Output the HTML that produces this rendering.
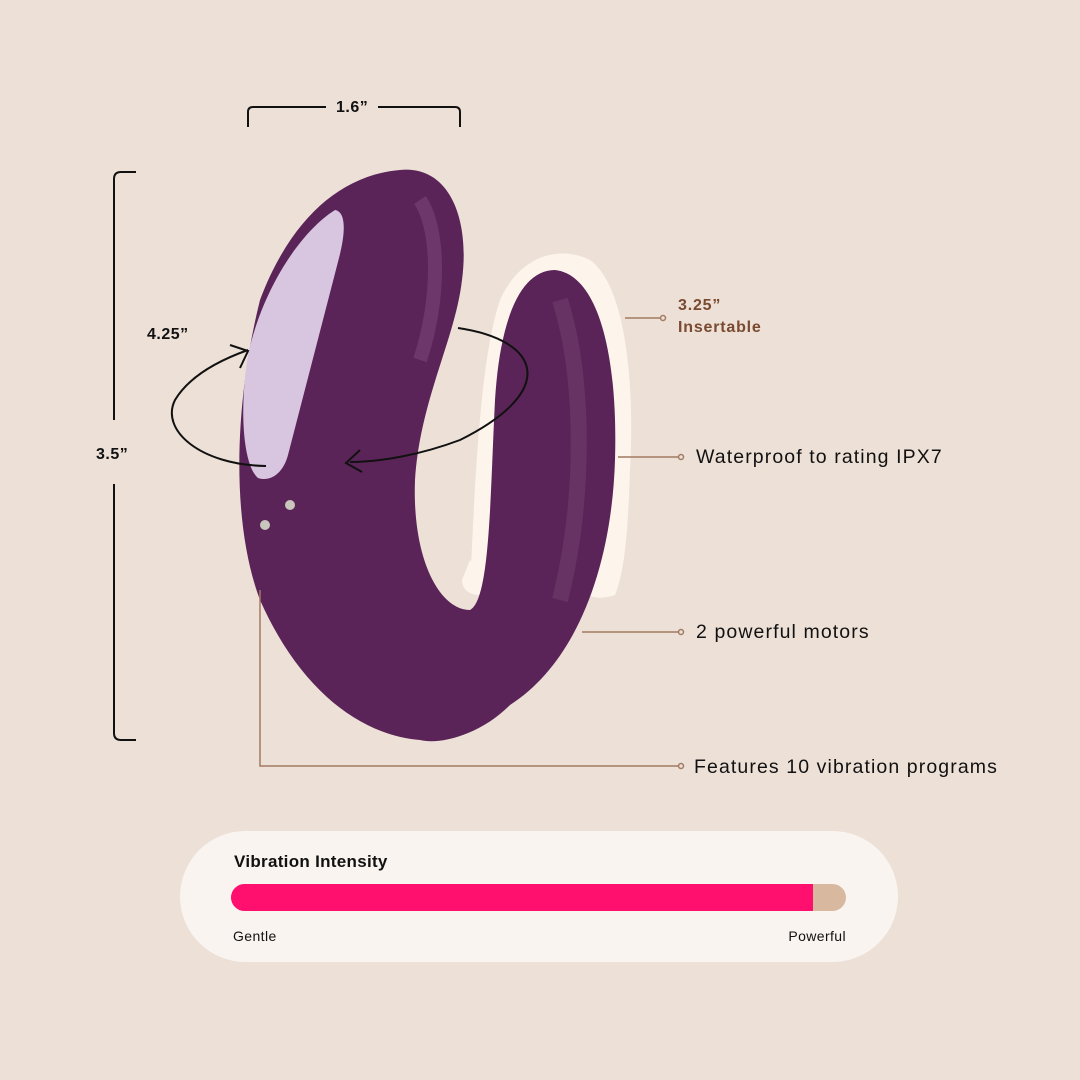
<!DOCTYPE html>
<html><head><meta charset="utf-8"><style>
html,body{margin:0;padding:0;background:#ede0d7;}
svg{display:block}
text{font-family:"Liberation Sans",sans-serif;}
</style></head><body>
<svg width="1080" height="1080" viewBox="0 0 1080 1080" xmlns="http://www.w3.org/2000/svg">
<rect width="1080" height="1080" fill="#ede0d7"/>
<!-- cream halo -->
<path d="M 470 590 C 475 480, 480 360, 500 300 C 520 255, 560 245, 590 260 C 625 285, 635 380, 630 470 C 628 530, 625 570, 615 595 C 600 600, 590 598, 580 590 L 470 590 Z" fill="#fdf5ec"/>
<path d="M 470 560 L 462 580 C 462 590, 470 595, 480 595 L 500 595 Z" fill="#fdf5ec"/>
<!-- device -->
<path d="M 400 170 C 450 165, 470 220, 462 280 C 455 340, 420 400, 415 480 C 412 560, 440 610, 470 610 C 490 600, 490 500, 495 400 C 500 320, 520 270, 555 270 C 600 275, 618 360, 615 460 C 612 560, 580 660, 510 705 C 480 735, 440 745, 420 740 C 360 735, 300 690, 260 600 C 230 520, 235 400, 260 300 C 290 220, 340 175, 400 170 Z" fill="#5a2458"/>
<path d="M 420 200 C 440 230, 440 300, 420 360" stroke="#7a4478" stroke-width="14" fill="none" opacity="0.6"/>
<path d="M 560 300 C 585 380, 585 500, 560 600" stroke="#74406f" stroke-width="16" fill="none" opacity="0.5"/>
<!-- panel -->
<path d="M 335 210 C 347 212, 345 235, 339 258 L 288 455 C 283 474, 270 482, 258 478 C 243 465, 239 410, 248 355 C 262 290, 300 232, 335 210 Z" fill="#d8c5df"/>
<circle cx="290" cy="505" r="5" fill="#c9c6bd"/>
<circle cx="265" cy="525" r="5" fill="#c9c6bd"/>
<!-- rotation arrow -->
<path d="M 458 328 C 540 340, 560 390, 460 440 C 420 455, 380 462, 350 462" stroke="#111" stroke-width="2" fill="none"/>
<path d="M 360 450 L 346 463 L 362 472" stroke="#111" stroke-width="2" fill="none"/>
<path d="M 266 466 C 200 465, 160 430, 175 400 C 190 375, 220 360, 248 350" stroke="#111" stroke-width="2" fill="none"/>
<path d="M 230 345 L 248 351 L 240 368" stroke="#111" stroke-width="2" fill="none"/>
<text x="147" y="339" font-size="16" font-weight="bold" fill="#111" letter-spacing="0.5">4.25”</text>
<!-- dimension brackets -->
<path d="M 248 127 L 248 112 Q 248 107 253 107 L 326 107 M 378 107 L 455 107 Q 460 107 460 112 L 460 127" stroke="#111" stroke-width="2" fill="none"/>
<text x="336" y="112" font-size="16" font-weight="bold" fill="#111" letter-spacing="0.5">1.6”</text>
<path d="M 136 172 L 121 172 Q 114 172 114 179 L 114 420 M 114 484 L 114 733 Q 114 740 121 740 L 136 740" stroke="#111" stroke-width="2" fill="none"/>
<text x="96" y="459" font-size="16" font-weight="bold" fill="#111" letter-spacing="0.5">3.5”</text>
<!-- callouts -->
<g stroke="#a27a62" stroke-width="1.5" fill="none">
<path d="M 625 318 L 662 318"/>
<path d="M 618 457 L 680 457"/>
<path d="M 582 632 L 680 632"/>
<path d="M 260 590 L 260 766 L 680 766"/>
</g>
<g fill="#ede0d7" stroke="#a27a62" stroke-width="1.5">
<circle cx="663" cy="318" r="2.5"/><circle cx="681" cy="457" r="2.5"/><circle cx="681" cy="632" r="2.5"/><circle cx="681" cy="766" r="2.5"/>
</g>
<text x="678" y="310" font-size="16" font-weight="bold" fill="#7a4a30" letter-spacing="0.8">3.25”</text>
<text x="678" y="332" font-size="16" font-weight="bold" fill="#7a4a30" letter-spacing="0.8">Insertable</text>
<text x="696" y="463" font-size="19.5" fill="#111" letter-spacing="1.1">Waterproof to rating IPX7</text>
<text x="696" y="638" font-size="19.5" fill="#111" letter-spacing="1.1">2 powerful motors</text>
<text x="694" y="773" font-size="19.5" fill="#111" letter-spacing="1.1">Features 10 vibration programs</text>
<!-- intensity -->
<rect x="180" y="831" width="718" height="131" rx="65.5" fill="#f9f4f0"/>
<text x="234" y="867" font-size="17" font-weight="bold" fill="#111" letter-spacing="0.3">Vibration Intensity</text>
<rect x="231" y="884" width="615" height="27" rx="13.5" fill="#d8b9a0"/>
<path d="M 244.5 884 L 813 884 L 813 911 L 244.5 911 A 13.5 13.5 0 0 1 244.5 884 Z" fill="#ff0f6e"/>
<text x="233" y="941" font-size="14" fill="#111" letter-spacing="0.4">Gentle</text>
<text x="846" y="941" font-size="14" fill="#111" text-anchor="end" letter-spacing="0.4">Powerful</text>
</svg>
</body></html>
